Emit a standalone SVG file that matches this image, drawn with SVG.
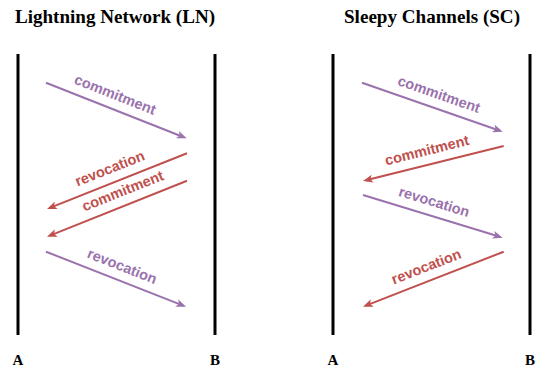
<svg xmlns="http://www.w3.org/2000/svg" width="536" height="368" viewBox="0 0 536 368">
  <style>
    .title { font-family: "Liberation Serif", "Times New Roman", serif; font-weight: bold; font-size: 18px; fill: #000; }
    .party { font-family: "Liberation Serif", "Times New Roman", serif; font-weight: bold; font-size: 15px; fill: #000; text-anchor: middle; }
    .life { stroke: #000; stroke-width: 3; fill: none; }
    .msg { stroke-width: 2; fill: none; }
    .p { stroke: #9a72ad; }
    .r { stroke: #c0504d; }
    .lbl { font-family: "Liberation Sans", Arial, sans-serif; font-weight: bold; font-size: 14.5px; text-anchor: middle; }
    .lp { fill: #9a72ad; }
    .lr { fill: #c0504d; }
  </style>
  <defs>
    <marker id="ahP" markerUnits="userSpaceOnUse" markerWidth="10" markerHeight="8" refX="7" refY="4" orient="auto">
      <path d="M0,0 L10,4 L0,8 L2.5,4 z" fill="#9a72ad"/>
    </marker>
    <marker id="ahR" markerUnits="userSpaceOnUse" markerWidth="10" markerHeight="8" refX="7" refY="4" orient="auto">
      <path d="M0,0 L10,4 L0,8 L2.5,4 z" fill="#c0504d"/>
    </marker>
  </defs>
  <rect width="536" height="368" fill="#fff"/>

  <g id="title-ln"><text class="title" x="15" y="22.7" textLength="200" lengthAdjust="spacingAndGlyphs">Lightning Network (LN)</text></g>
  <g id="title-sc"><text class="title" x="344" y="22.7" textLength="176" lengthAdjust="spacingAndGlyphs">Sleepy Channels (SC)</text></g>

  <g id="ln-A"><line class="life" x1="18" y1="54" x2="18" y2="335"/><text class="party" x="18" y="365">A</text></g>
  <g id="ln-B"><line class="life" x1="215" y1="54" x2="215" y2="335"/><text class="party" x="215" y="365">B</text></g>
  <g id="sc-A"><line class="life" x1="333" y1="54" x2="333" y2="335"/><text class="party" x="333" y="365">A</text></g>
  <g id="sc-B"><line class="life" x1="530" y1="54" x2="530" y2="335"/><text class="party" x="530" y="365">B</text></g>

  <g id="connectors">
    <line class="msg p" x1="46" y1="82.7" x2="183.9" y2="137.2" marker-end="url(#ahP)"/>
    <line class="msg r" x1="187" y1="153.3" x2="49.8" y2="207.9" marker-end="url(#ahR)"/>
    <line class="msg r" x1="187" y1="180.7" x2="49.8" y2="235.6" marker-end="url(#ahR)"/>
    <line class="msg p" x1="46" y1="251.7" x2="183.2" y2="305.6" marker-end="url(#ahP)"/>

    <line class="msg p" x1="362" y1="82.7" x2="499.9" y2="130.7" marker-end="url(#ahP)"/>
    <line class="msg r" x1="503.7" y1="146" x2="365.9" y2="180.3" marker-end="url(#ahR)"/>
    <line class="msg p" x1="363" y1="195" x2="499.8" y2="236.8" marker-end="url(#ahP)"/>
    <line class="msg r" x1="503.7" y1="251.7" x2="365.8" y2="305.6" marker-end="url(#ahR)"/>

    <text class="lbl lp" transform="translate(116.35 110.5) rotate(21.56)" x="-7" y="-9.5">commitment</text>
    <text class="lbl lr" transform="translate(117 181.15) rotate(-21.69)" x="-2" y="-9.5">revocation</text>
    <text class="lbl lr" transform="translate(117 208.7) rotate(-21.8)" x="12" y="-9.5">commitment</text>
    <text class="lbl lp" transform="translate(116 279.2) rotate(21.45)" x="1" y="-9.5">revocation</text>

    <text class="lbl lp" transform="translate(432.35 107.2) rotate(19.2)" x="2" y="-9.5">commitment</text>
    <text class="lbl lr" transform="translate(433.35 163.5) rotate(-13.97)" x="-3" y="-9.5">commitment</text>
    <text class="lbl lp" transform="translate(432.85 216.35) rotate(17)" x="-3" y="-9.5">revocation</text>
    <text class="lbl lr" transform="translate(433.35 279.2) rotate(-21.35)" x="-2" y="-9.5">revocation</text>
  </g>
</svg>
